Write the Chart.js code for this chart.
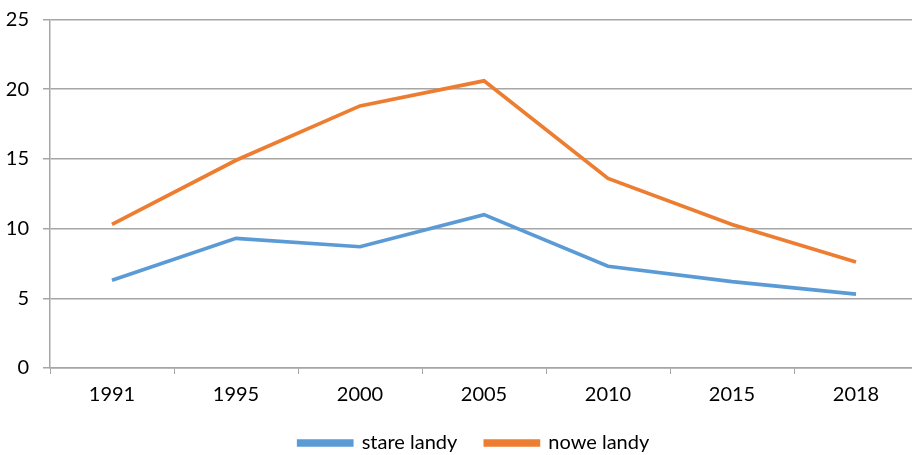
<!DOCTYPE html>
<html>
<head>
<meta charset="utf-8">
<script src="https://cdn.jsdelivr.net/npm/chart.js@4/dist/chart.umd.min.js"></script>
<style>
html,body{margin:0;padding:0;background:#fff;overflow:hidden;}
#wrap{width:918px;height:463px;}
</style>
</head>
<body>
<div id="wrap"><canvas id="c" width="918" height="463"></canvas></div>
<script>
const categories = ["1991", "1995", "2000", "2005", "2010", "2015", "2018"];
const stareLandy = [6.3, 9.3, 8.7, 11.0, 7.3, 6.2, 5.3];
const noweLandy = [10.3, 14.9, 18.8, 20.6, 13.6, 10.3, 7.6];
const seriesNames = ["stare landy", "nowe landy"];
const yTicks = [0, 5, 10, 15, 20, 25];

const FONT = "Lato, 'Liberation Sans', sans-serif";
const legendShift = {
  id: 'legendShift',
  afterLayout(chart) {
    if (chart.legend) { chart.legend.left += 15; chart.legend.right += 15; }
  }
};
new Chart(document.getElementById('c'), {
  type: 'line',
  data: {
    labels: categories,
    datasets: [
      {label: seriesNames[0], data: stareLandy, borderColor: '#5B9BD5', backgroundColor: '#5B9BD5', borderWidth: 3.7, pointRadius: 0, tension: 0},
      {label: seriesNames[1], data: noweLandy, borderColor: '#ED7D31', backgroundColor: '#ED7D31', borderWidth: 3.7, pointRadius: 0, tension: 0}
    ]
  },
  plugins: [legendShift],
  options: {
    responsive: false,
    animation: false,
    layout: {padding: 0},
    plugins: {
      tooltip: {enabled: false},
      legend: {
        position: 'bottom',
        labels: {
          font: {family: FONT, size: 20},
          color: '#000',
          boxWidth: 53,
          boxHeight: 4,
          padding: 28
        }
      }
    },
    scales: {
      x: {
        offset: true,
        afterFit: (s) => { s.height = 37; },
        grid: {offset: true, drawOnChartArea: false, color: '#A6A6A6', tickLength: 6, tickColor: '#A6A6A6'},
        border: {color: '#A6A6A6', width: 1.5},
        ticks: {font: {family: FONT, size: 20}, color: '#000', padding: 9, maxRotation: 0}
      },
      y: {
        min: 0, max: 25,
        afterFit: (s) => { s.width = 50; s.paddingTop = 19.5; s.paddingBottom = 0; },
        afterBuildTicks: (s) => { s.ticks = yTicks.map(v => ({value: v})); },
        grid: {color: '#A6A6A6', lineWidth: 1.5, tickLength: 7},
        border: {color: '#A6A6A6', width: 1.5},
        ticks: {font: {family: FONT, size: 20}, color: '#000', padding: 14}
      }
    }
  }
});
</script>
</body>
</html>
